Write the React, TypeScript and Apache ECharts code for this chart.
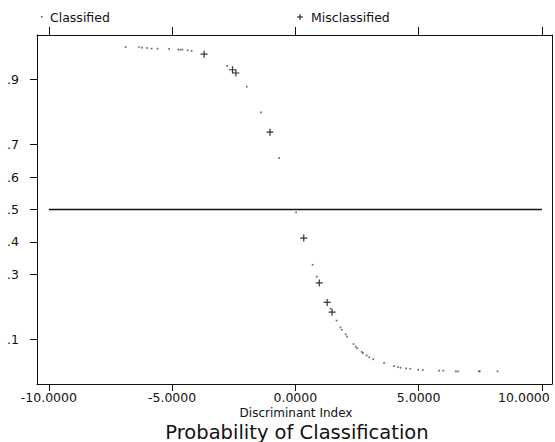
import React, { useEffect, useRef } from 'react';
import * as echarts from 'echarts';

const xTicks = [-10, -5, 0, 5, 10];
const yTicks = [0.1, 0.3, 0.4, 0.5, 0.6, 0.7, 0.9];

const classifiedX = [
  -6.88, -6.34, -6.22, -6.01, -5.83, -5.59, -5.12, -4.75, -4.66, -4.58, -4.37, -4.21,
  -2.77, -1.97, -1.39, -0.66, 0.03, 0.70, 0.87, 1.43, 1.67, 1.83, 1.89, 2.04, 2.10,
  2.36, 2.45, 2.51, 2.69, 2.74, 2.89, 3.00, 3.16, 3.60, 4.00, 4.17, 4.27, 4.49, 4.66,
  4.98, 5.17, 5.83, 6.00, 6.51, 6.60, 7.44, 7.48, 8.20,
];
const classifiedY = [
  1.0, 1.0, 0.998, 0.997, 0.995, 0.995, 0.994, 0.992, 0.992, 0.992, 0.99, 0.988,
  0.942, 0.878, 0.799, 0.658, 0.491, 0.33, 0.293, 0.195, 0.158, 0.137, 0.13, 0.116, 0.109,
  0.086, 0.078, 0.073, 0.062, 0.058, 0.051, 0.045, 0.039, 0.028, 0.018, 0.015, 0.013, 0.011, 0.01,
  0.007, 0.006, 0.004, 0.004, 0.002, 0.002, 0.002, 0.002, 0.002,
];
const misclassifiedX = [-3.70, -2.55, -2.41, -1.03, 0.34, 0.97, 1.29, 1.49];
const misclassifiedY = [0.978, 0.93, 0.92, 0.738, 0.412, 0.274, 0.214, 0.184];

const refLevel = 0.5;
const refRange = [-10, 10];

const FONT = 'DejaVu Sans';
const INK = '#111';

export default function App() {
  const ref = useRef<HTMLDivElement>(null);
  useEffect(() => {
    const chart = echarts.init(ref.current!, null, { renderer: 'svg' });
    const xMin = -10.48;
    const xMax = 10.41;
    const yMin = -0.037;
    const yMax = 1.037;
    const lineStyle = { color: INK, width: 1 };
    chart.setOption({
      animation: false,
      backgroundColor: '#fff',
      grid: { left: 37, right: 3, top: 35, bottom: 58, containLabel: false, outerBoundsMode: 'none' },
      xAxis: [
        {
          type: 'value', position: 'bottom', min: xMin, max: xMax,
          axisLine: { show: true, onZero: false, lineStyle },
          axisTick: { show: true, customValues: xTicks, length: 7, lineStyle },
          axisLabel: {
            customValues: xTicks, margin: 7, color: INK, fontFamily: FONT, fontSize: 12.5,
            formatter: (v: number) => (v === 10 ? '{r|' + v.toFixed(4) + '}' : v.toFixed(4)),
            rich: { r: { padding: [0, 36, 0, 0], color: INK, fontFamily: FONT, fontSize: 12.5 } },
          },
          splitLine: { show: false },
        },
        {
          type: 'value', position: 'top', min: xMin, max: xMax,
          axisLine: { show: true, onZero: false, lineStyle },
          axisTick: { show: true, customValues: xTicks, length: 8, lineStyle },
          axisLabel: { show: false },
          splitLine: { show: false },
        },
      ],
      yAxis: [
        {
          type: 'value', position: 'left', min: yMin, max: yMax,
          axisLine: { show: true, onZero: false, lineStyle },
          axisTick: { show: true, customValues: yTicks, length: 7, lineStyle },
          axisLabel: {
            customValues: yTicks, margin: 18, color: INK, fontFamily: FONT, fontSize: 12.5,
            formatter: (v: number) => String(v).replace(/^0\./, '.'),
          },
          splitLine: { show: false },
        },
        {
          type: 'value', position: 'right', min: yMin, max: yMax,
          axisLine: { show: true, onZero: false, lineStyle },
          axisTick: { show: false },
          axisLabel: { show: false },
          splitLine: { show: false },
        },
      ],
      series: [
        {
          name: 'Reference', type: 'line', xAxisIndex: 0, yAxisIndex: 0,
          data: refRange.map((x) => [x, refLevel]),
          showSymbol: false, symbol: 'none',
          lineStyle: { color: INK, width: 1.5 },
          silent: true,
        },
        {
          name: 'Classified', type: 'scatter', xAxisIndex: 0, yAxisIndex: 0,
          data: classifiedX.map((x, i) => [x, classifiedY[i]]),
          symbol: 'rect', symbolSize: 1.7,
          itemStyle: { color: '#444' },
        },
        {
          name: 'Misclassified', type: 'scatter', xAxisIndex: 0, yAxisIndex: 0,
          data: misclassifiedX.map((x, i) => [x, misclassifiedY[i]]),
          symbol: 'path://M2.9,0H4.1V2.9H7V4.1H4.1V7H2.9V4.1H0V2.9H2.9Z', symbolSize: 7,
          itemStyle: { color: '#000' },
        },
      ],
      graphic: [
        { type: 'rect', shape: { x: 41, y: 16, width: 1.5, height: 1.5 }, style: { fill: '#555' } },
        { type: 'text', x: 50, y: 17, style: { text: 'Classified', fill: INK, font: `12.5px "${FONT}"`, verticalAlign: 'middle' } },
        { type: 'line', shape: { x1: 297, y1: 17, x2: 303, y2: 17 }, style: { stroke: INK, lineWidth: 1 } },
        { type: 'line', shape: { x1: 300, y1: 14, x2: 300, y2: 20 }, style: { stroke: INK, lineWidth: 1 } },
        { type: 'text', x: 311, y: 17, style: { text: 'Misclassified', fill: INK, font: `12.5px "${FONT}"`, verticalAlign: 'middle' } },
        { type: 'text', x: 296, y: 413, style: { text: 'Discriminant Index', fill: INK, font: `12px "${FONT}"`, align: 'center', verticalAlign: 'middle' } },
        { type: 'text', x: 297, y: 432, style: { text: 'Probability of Classification', fill: INK, font: `19.5px "${FONT}"`, align: 'center', verticalAlign: 'middle' } },
      ],
    });
    return () => chart.dispose();
  }, []);
  return (
    <div
      ref={ref}
      style={{ position: 'absolute', left: 0, top: 0, width: 555, height: 442, background: '#fff' }}
    />
  );
}
